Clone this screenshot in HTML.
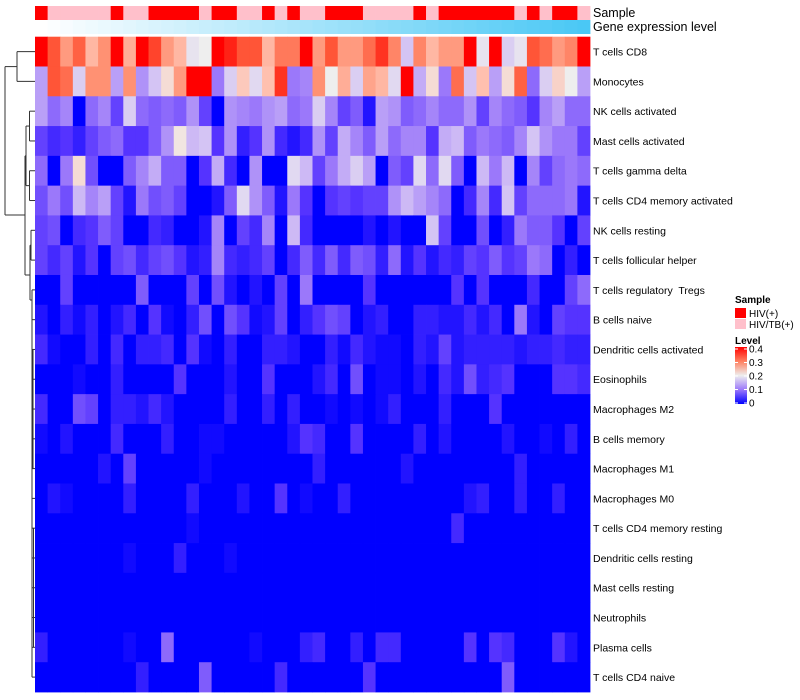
<!DOCTYPE html>
<html><head><meta charset="utf-8"><style>
html,body{margin:0;padding:0;background:#fff;}
svg{display:block;font-family:"Liberation Sans",sans-serif;}
svg text{white-space:pre;}
</style></head><body>
<svg id="chart" width="800" height="700" xmlns="http://www.w3.org/2000/svg"></svg>
<script>
const rowLabels = ["T cells CD8","Monocytes","NK cells activated","Mast cells activated","T cells gamma delta","T cells CD4 memory activated","NK cells resting","T cells follicular helper","T cells regulatory  Tregs","B cells naive","Dendritic cells activated","Eosinophils","Macrophages M2","B cells memory","Macrophages M1","Macrophages M0","T cells CD4 memory resting","Dendritic cells resting","Mast cells resting","Neutrophils","Plasma cells","T cells CD4 naive"];
// sample group per column: 1 = HIV(+), 0 = HIV/TB(+)
const sampleGroups = [1,0,0,0,0,0,1,0,0,1,1,1,1,0,1,1,0,0,1,0,1,0,0,1,1,1,0,0,0,0,1,0,1,1,1,1,1,1,0,1,0,1,1,0];
// values in hundredths (0..40 => 0..0.40)
const row0 = [40,35,29,34,26,30,40,27,40,36,29,26,19,20,40,38,35,35,26,32,32,40,29,35,29,29,33,37,31,16,31,26,29,29,40,19,40,17,19,35,33,29,31,40];
const row1 = [13,35,33,17,30,30,13,30,12,16,22,29,40,40,10,17,24,18,25,37,10,11,30,20,27,17,28,26,18,40,14,22,10,33,16,25,13,22,34,9,17,23,20,13];
const row2 = [13,9,11,0,9,11,6,17,9,8,9,8,12,6,0,12,11,10,12,13,9,10,17,11,6,8,2,13,12,8,9,11,9,9,12,6,11,9,8,5,11,13,9,9];
const row3 = [6,4,5,3,6,8,9,5,5,8,12,21,15,16,5,12,3,5,12,4,2,4,12,6,14,11,8,13,9,11,11,5,14,15,8,10,9,8,11,16,12,10,10,6];
const row4 = [9,0,10,22,7,0,0,8,11,14,8,8,0,5,14,4,0,12,0,0,18,15,6,10,14,17,13,0,8,6,18,9,18,8,0,15,10,15,0,11,6,9,10,9];
const row5 = [7,10,7,15,11,13,6,2,10,7,8,6,0,0,2,8,18,12,8,2,10,5,0,5,6,5,6,6,12,15,13,11,9,0,4,11,4,16,6,9,9,9,10,2];
const row6 = [6,7,0,4,5,8,6,0,0,4,3,0,0,2,11,0,6,4,11,0,15,4,0,0,0,0,2,0,2,0,0,16,6,0,0,7,0,3,10,8,8,5,0,6];
const row7 = [6,4,6,2,5,0,6,7,4,6,7,5,2,3,11,4,3,4,6,0,4,8,4,8,4,8,7,3,9,2,5,2,4,3,6,5,8,5,6,10,9,0,3,0];
const row8 = [0,0,6,0,0,0,0,0,8,0,0,0,6,0,7,2,0,2,0,6,0,10,0,0,0,0,5,0,0,0,0,0,0,5,0,5,0,0,0,4,0,0,6,9];
const row9 = [2,0,3,1,3,0,2,4,0,5,1,0,3,7,0,7,5,1,2,6,0,3,5,7,6,0,2,3,0,0,3,3,2,2,4,2,4,0,10,2,0,6,5,5];
const row10 = [4,1,0,0,3,0,4,0,3,3,4,0,5,1,0,3,0,0,3,3,2,0,0,3,1,4,2,1,1,0,3,2,6,2,3,3,3,3,2,3,3,4,3,3];
const row11 = [0,0,0,1,0,0,3,0,0,0,0,5,0,0,0,2,0,0,5,0,0,0,2,4,0,7,0,1,1,0,2,0,4,2,7,3,4,5,0,0,0,5,5,4];
const row12 = [4,0,0,7,6,0,3,3,2,4,2,0,0,0,0,3,0,0,3,0,3,0,0,1,0,1,0,1,3,0,0,0,3,0,0,0,5,0,0,0,0,0,0,0];
const row13 = [1,0,2,0,0,0,4,0,0,0,3,0,0,1,1,0,0,0,0,0,2,5,4,0,0,5,0,0,0,0,3,0,2,0,0,0,0,2,0,0,1,0,3,0];
const row14 = [0,0,0,0,0,2,0,6,0,0,0,0,0,1,0,0,0,0,0,0,0,0,3,0,0,0,0,0,0,2,0,0,0,0,0,0,0,0,3,0,0,0,0,0];
const row15 = [0,2,1,0,0,0,0,3,0,0,0,0,3,0,0,0,2,0,0,5,0,1,0,0,3,0,0,0,0,0,0,0,0,0,2,3,0,0,3,0,0,3,0,0];
const row16 = [0,0,0,0,0,0,0,0,0,0,0,0,1,0,0,0,0,0,0,0,0,0,0,0,0,0,0,0,0,0,0,0,0,4,0,0,0,0,0,0,0,0,0,0];
const row17 = [0,0,0,0,0,0,0,1,0,0,0,3,0,0,0,1,0,0,0,0,0,0,0,0,0,0,0,0,0,0,0,0,0,0,0,0,0,0,0,0,0,0,0,0];
const row18 = [0,0,0,0,0,0,0,0,0,0,0,0,0,0,0,0,0,0,0,0,0,0,0,0,0,0,0,0,0,0,0,0,0,0,0,0,0,0,0,0,0,0,0,0];
const row19 = [0,0,0,0,0,0,0,0,0,0,0,0,0,0,0,0,0,0,0,0,0,0,0,0,0,0,0,0,0,0,0,0,0,0,0,0,0,0,0,0,0,0,0,0];
const row20 = [3,0,0,0,0,0,0,1,0,0,9,0,0,0,0,0,0,1,0,0,0,3,4,0,0,3,0,4,4,0,0,0,0,0,5,0,5,4,0,0,0,5,2,0];
const row21 = [0,0,0,0,0,0,0,0,3,0,0,0,0,8,0,0,0,0,0,4,0,0,0,0,0,0,5,0,0,0,0,0,0,0,0,0,0,8,0,0,0,0,0,0];
const rows = [row0,row1,row2,row3,row4,row5,row6,row7,row8,row9,row10,row11,row12,row13,row14,row15,row16,row17,row18,row19,row20,row21];
const legendTicks = ["0.4","0.3","0.2","0.1","0"];

const NS="http://www.w3.org/2000/svg";
const svg=document.getElementById('chart');
const X0=35, X1=590, Y0=36.7, Y1=692;
const nC=sampleGroups.length, nR=rows.length;
const cw=(X1-X0)/nC, rh=(Y1-Y0)/nR;
const xPos=c=>X0+c*cw;
const yPos=r=>Y0+r*rh;
function el(tag,attrs,parent){const e=document.createElementNS(NS,tag);for(const k in attrs)e.setAttribute(k,attrs[k]);(parent||svg).appendChild(e);return e;}
const stops=[[0,[0,0,255]],[5,[85,51,255]],[10,[155,120,250]],[15,[205,185,245]],[20,[238,238,238]],[25,[255,192,175]],[30,[255,145,115]],[35,[255,85,55]],[40,[255,0,0]]];
function color(v){v=Math.max(0,Math.min(40,v));for(let i=0;i<stops.length-1;i++){const a=stops[i],b=stops[i+1];if(v<=b[0]){const t=(v-a[0])/(b[0]-a[0]);const c=a[1].map((x,j)=>Math.round(x+(b[1][j]-x)*t));return `rgb(${c.join(',')})`;}}return 'rgb(255,0,0)';}

// annotation rows
const ga=el('g',{});


sampleGroups.forEach((g,c)=>{
  const r=el('rect',{x:xPos(c),y:6,width:cw+0.4,height:14,fill:g?'#FF0000':'#FFC0CB'},ga);
  
  
});
const gg=el('g',{});


for(let c=0;c<nC;c++){
  const t=c/(nC-1);
  const rr=Math.round(255+(74-255)*t),g2=Math.round(255+(200-255)*t),b=Math.round(255+(245-255)*t);
  const r=el('rect',{x:xPos(c),y:20,width:cw+0.4,height:14,fill:`rgb(${rr},${g2},${b})`},gg);
  
  
}
const t1=el('text',{x:593,y:17,'font-size':12.5,fill:'#000'});t1.textContent='Sample';


const t2=el('text',{x:593,y:31,'font-size':12.5,fill:'#000'});t2.textContent='Gene expression level';



// heatmap cells
const gh=el('g',{});


rows.forEach((vals,r)=>{
  vals.forEach((v,c)=>{
    const rc=el('rect',{x:xPos(c),y:yPos(r),width:cw+0.4,height:rh+0.4,fill:color(v)},gh);
    
    
  });
  const tx=el('text',{x:593,y:yPos(r)+rh/2+4,'font-size':10.5,fill:'#000'});
  tx.textContent=rowLabels[r];
  
  
});

// dendrogram
const gd=el('g',{stroke:'#333','stroke-width':1,fill:'none'});


const cy=r=>yPos(r)+rh/2;
function line(x1,y1,x2,y2){el('line',{x1,y1,x2,y2},gd);}
line(5,66.6,5,215);line(5,66.6,17,66.6);line(17,cy(0),17,cy(1));line(17,cy(0),35,cy(0));line(17,cy(1),35,cy(1));
line(5,215,25,215);
const bTop=(cy(2)+cy(3))/2,bBot=(cy(4)+cy(5))/2;
line(25,(bTop+bBot)/2,25,275);
line(25,(bTop+bBot)/2,26,(bTop+bBot)/2);
line(26,bTop,26,bBot);line(26,bTop,29.5,bTop);line(26,bBot,29.5,bBot);
line(29.5,cy(2),29.5,cy(3));line(29.5,cy(2),35,cy(2));line(29.5,cy(3),35,cy(3));
line(29.5,cy(4),29.5,cy(5));line(29.5,cy(4),35,cy(4));line(29.5,cy(5),35,cy(5));
const c67=(cy(6)+cy(7))/2;
line(25,275,30,275);line(30,c67,30,300);line(30,c67,31,c67);line(31,cy(6),31,cy(7));line(31,cy(6),35,cy(6));line(31,cy(7),35,cy(7));
line(30,300,32,300);line(32,cy(8),32,cy(21));
for(let r=8;r<22;r++){line(32,cy(r),35,cy(r));}
line(33,cy(10),33,cy(14));line(33.5,cy(16),33.5,cy(20));

// legend
const gl=el('g',{});


const lt=el('text',{x:735,y:303,'font-size':10,'font-weight':'bold'},gl);lt.textContent='Sample';


const l1=el('rect',{x:735,y:308,width:11,height:10,fill:'#FF0000'},gl);


const l1t=el('text',{x:749,y:317,'font-size':10},gl);l1t.textContent='HIV(+)';


const l2=el('rect',{x:735,y:319,width:11,height:10,fill:'#FFC0CB'},gl);


const l2t=el('text',{x:749,y:328,'font-size':10},gl);l2t.textContent='HIV/TB(+)';


const lv=el('text',{x:735,y:344,'font-size':10,'font-weight':'bold'},gl);lv.textContent='Level';


const defs=el('defs',{});
const lg=el('linearGradient',{id:'lvl',x1:0,y1:0,x2:0,y2:1},defs);
[[0,'#FF0000'],[0.25,'#FF8060'],[0.5,'#EEEEEE'],[0.75,'#9B78FA'],[1,'#0000FF']].forEach(s=>el('stop',{offset:s[0],'stop-color':s[1]},lg));
const cb=el('rect',{x:735,y:347,width:12,height:57,fill:'url(#lvl)'},gl);


legendTicks.forEach((t,i)=>{
  const y=349+i*13.5;
  el('line',{x1:735,y1:y,x2:738,y2:y,stroke:'#fff','stroke-width':1},gl);
  el('line',{x1:744,y1:y,x2:747,y2:y,stroke:'#fff','stroke-width':1},gl);
  const tt=el('text',{x:749,y:y+3.5,'font-size':10},gl);tt.textContent=t;
  
  
});
</script>
</body></html>
